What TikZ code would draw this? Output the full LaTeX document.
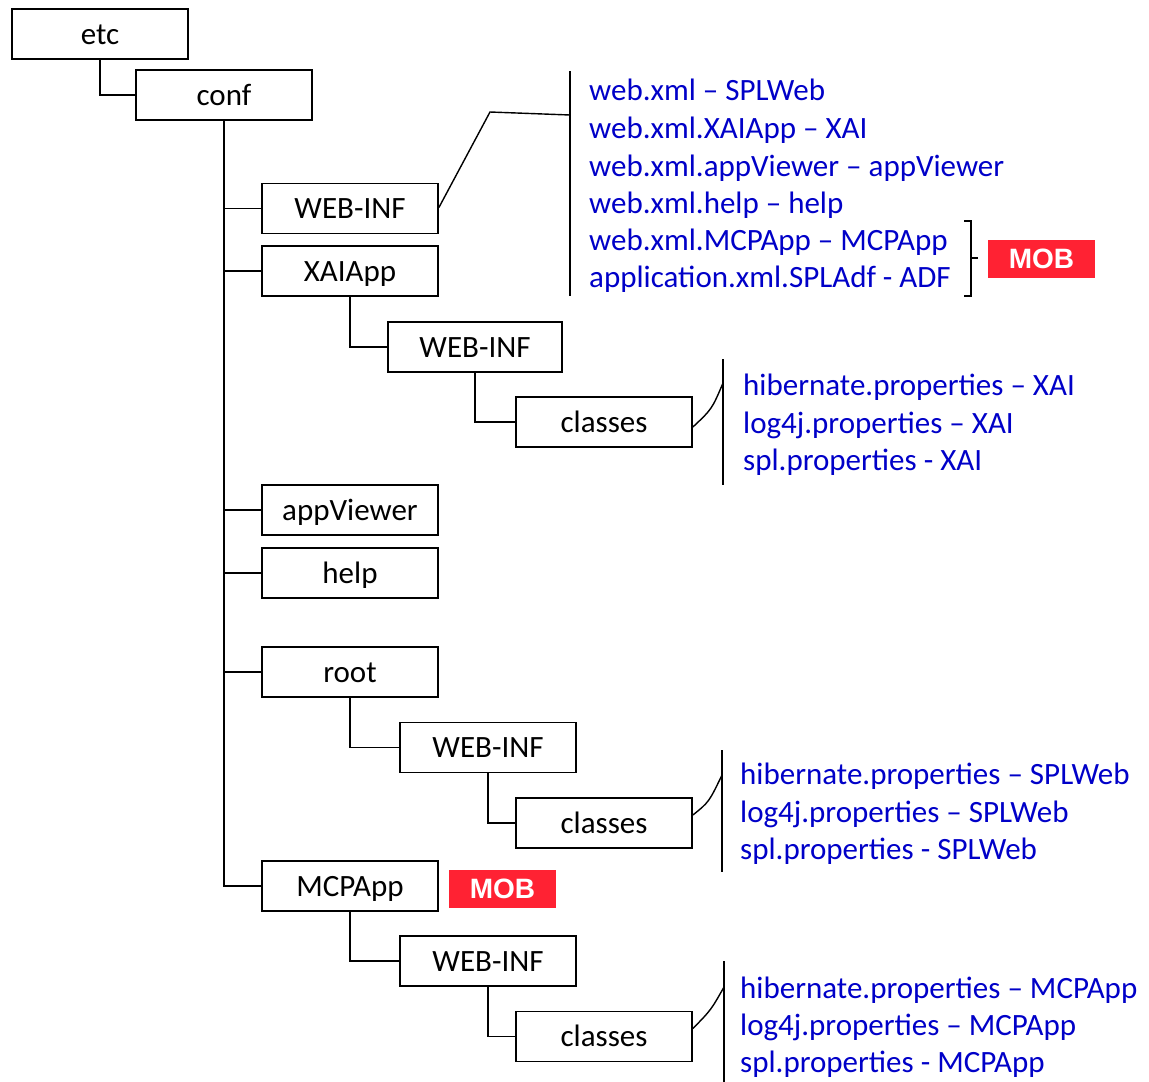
\documentclass[tikz,border=0pt]{standalone}
\usepackage{fontspec}
\setmainfont{Carlito}
\newfontfamily\mobfont{Liberation Sans}
\definecolor{fileblue}{RGB}{0,0,200}
\definecolor{mobred}{RGB}{255,34,51}
\begin{document}
\begin{tikzpicture}[x=1pt,y=-1pt,
 box/.style={draw, line width=1.8pt, minimum width=176pt, minimum height=50pt, inner sep=0pt, text height=24pt, text depth=4pt, font=\fontsize{31}{37}\selectfont},
 link/.style={line width=1.8pt},
 trunk/.style={line width=2.3pt},
 file/.style={anchor=base west, inner sep=0pt, text=fileblue, font=\fontsize{31}{37}\selectfont},
 mob/.style={fill=mobred, minimum width=107pt, minimum height=38pt, inner sep=0pt, text=white, font=\mobfont\bfseries\fontsize{28}{30}\selectfont}]
\useasboundingbox (0,0) rectangle (1149,1082);
% boxes
\node[box] (etc) at (100,34) {etc};
\node[box] (conf) at (224,95) {conf};
\node[box] (wi1) at (350,208.5) {WEB-INF};
\node[box] (xai) at (350,271) {XAIApp};
\node[box, minimum width=174pt] (wi2) at (475,347) {WEB-INF};
\node[box] (cl1) at (604,422) {classes};
\node[box] (appv) at (350,510) {appViewer};
\node[box] (help) at (350,573) {help};
\node[box] (root) at (350,672) {root};
\node[box] (wi3) at (488,747.5) {WEB-INF};
\node[box] (cl2) at (604,823) {classes};
\node[box] (mcp) at (350,886) {MCPApp};
\node[box] (wi4) at (488,961) {WEB-INF};
\node[box] (cl3) at (604,1036.5) {classes};
% MOB tags
\node[mob] (mob1) at (1041.5,259) {MOB};
\node[mob] (mob2) at (502.5,888.5) {MOB};
% tree connectors
\draw[link] (etc.south) |- (conf.west);
\draw[trunk] (conf.south) |- (mcp.west);
\draw[link] (conf.south |- wi1.west) -- (wi1.west);
\draw[link] (conf.south |- xai.west) -- (xai.west);
\draw[link] (conf.south |- appv.west) -- (appv.west);
\draw[link] (conf.south |- help.west) -- (help.west);
\draw[link] (conf.south |- root.west) -- (root.west);
\draw[link] (xai.south) |- (wi2.west);
\draw[link] (wi2.south) |- (cl1.west);
\draw[link] (root.south) |- (wi3.west);
\draw[link] (wi3.south) |- (cl2.west);
\draw[link] (mcp.south) |- (wi4.west);
\draw[link] (wi4.south) |- (cl3.west);
% file list brackets
\coordinate (b0t) at (570,71);
\coordinate (b0b) at (570,296);
\coordinate (b0j) at (570,115);
\coordinate (b0k) at (490,112);
\draw[link] (b0t) -- (b0b);
\draw[line width=1.4pt] ([yshift=1pt]wi1.east) -- (b0k) -- (b0j);
\coordinate (b1t) at (723,359);
\coordinate (b1b) at (723,485);
\coordinate (b1j) at (723,383);
\draw[link] (b1t) -- (b1b);
\draw[line width=1.4pt] ([yshift=-5pt]cl1.east) .. controls (712,409) .. (b1j);
\coordinate (b2t) at (722,750);
\coordinate (b2b) at (722,872);
\coordinate (b2j) at (722,775);
\draw[link] (b2t) -- (b2b);
\draw[line width=1.4pt] ([yshift=8pt]cl2.east) .. controls (709,802) .. (b2j);
\coordinate (b3t) at (724,961);
\coordinate (b3b) at (724,1082);
\coordinate (b3j) at (724,987);
\draw[link] (b3t) -- (b3b);
\draw[line width=1.4pt] ([yshift=8pt]cl3.east) .. controls (711,1010) .. (b3j);
% MOB bracket
\coordinate (mbt) at (964,221);
\coordinate (mbb) at (964,296);
\coordinate (mbm) at (978,258);
\draw[line width=1.6pt] (mbt) -| (971,296) -- (mbb);
\draw[line width=2pt] (971,258) -- (mbm);
% file texts
\node[file] (f1) at (589,100) {web.xml – SPLWeb};
\node[file] (f2) at (589,138) {web.xml.XAIApp – XAI};
\node[file] (f3) at (589,176) {web.xml.appViewer – appViewer};
\node[file] (f4) at (589,213) {web.xml.help – help};
\node[file] (f5) at (589,250) {web.xml.MCPApp – MCPApp};
\node[file] (f6) at (589,287) {application.xml.SPLAdf - ADF};
\node[file] (g1) at (743,395) {hibernate.properties – XAI};
\node[file] (g2) at (743,433) {log4j.properties – XAI};
\node[file] (g3) at (743,470) {spl.properties - XAI};
\node[file] (h1) at (740,784) {hibernate.properties – SPLWeb};
\node[file] (h2) at (740,822) {log4j.properties – SPLWeb};
\node[file] (h3) at (740,859) {spl.properties - SPLWeb};
\node[file] (k1) at (740,998) {hibernate.properties – MCPApp};
\node[file] (k2) at (740,1035) {log4j.properties – MCPApp};
\node[file] (k3) at (740,1072) {spl.properties - MCPApp};
\end{tikzpicture}
\end{document}
